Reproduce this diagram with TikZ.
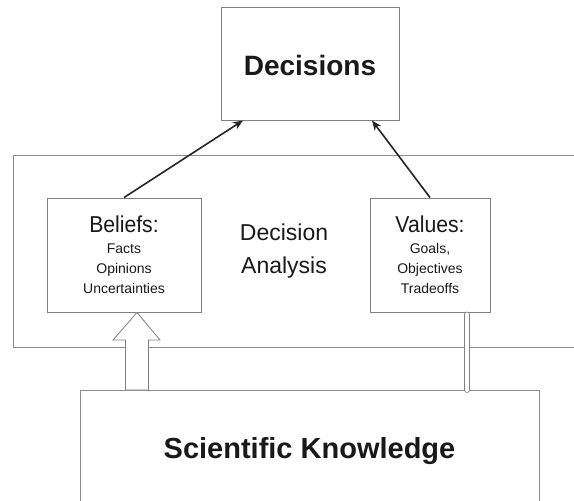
\documentclass[tikz,border=0pt]{standalone}
\usepackage{fontspec}
\setmainfont{Liberation Sans}
\usetikzlibrary{arrows.meta,calc}
\begin{document}
\begin{tikzpicture}[x=1pt,y=-1pt,
  box/.style={draw=black!50, line width=0.9pt, fill=white, inner sep=0pt},
  lbl/.style={anchor=base, inner sep=0pt, text=black!90},
  conn/.style={draw=black!85, line width=1.6pt, -{Stealth[length=10pt,width=8pt]}},
  frame/.style={draw=black!45, line width=0.8pt}]
\useasboundingbox[fill=white] (0,0) rectangle (574,501);
% Decision analysis region (open on the right)
\draw[frame] (575,155) -- (13,155) -- (13,347) -- (575,347);
% boxes
\node[box, minimum width=178pt, minimum height=113pt] (decisions) at (310,63.5) {};
\node[box, minimum width=154pt, minimum height=114pt] (beliefs) at (124,255) {};
\node[box, minimum width=120pt, minimum height=114pt] (values) at (430,255) {};
\draw[frame] (80,505) -- (80,390) -- (539,390) -- (539,505);
\coordinate (sk) at (309.5,390);
% texts
\node[lbl, font=\bfseries\fontsize{28}{30}\selectfont] (tdec) at (310,75) {Decisions};
\node[lbl, font=\fontsize{23}{25}\selectfont] (tda1) at (284,240) {Decision};
\node[lbl, font=\fontsize{23}{25}\selectfont] (tda2) at (284,273) {Analysis};
\node[lbl, font=\fontsize{23}{25}\selectfont, xscale=0.92] (tbel) at (124,232) {Beliefs:};
\node[lbl, font=\fontsize{14}{16}\selectfont] (tb1) at (124,253) {Facts};
\node[lbl, font=\fontsize{14}{16}\selectfont] (tb2) at (124,273) {Opinions};
\node[lbl, font=\fontsize{14}{16}\selectfont] (tb3) at (124,293) {Uncertainties};
\node[lbl, font=\fontsize{23}{25}\selectfont, xscale=0.92] (tval) at (430,232) {Values:};
\node[lbl, font=\fontsize{14}{16}\selectfont] (tv1) at (430,253) {Goals,};
\node[lbl, font=\fontsize{14}{16}\selectfont] (tv2) at (430,273) {Objectives};
\node[lbl, font=\fontsize{14}{16}\selectfont] (tv3) at (430,293) {Tradeoffs};
\node[lbl, font=\bfseries\fontsize{29}{31}\selectfont] (tsk) at (309.5,458) {Scientific Knowledge};
% connectors to Decisions
\draw[conn] (beliefs.north) -- ($(decisions.south)+(-67,0)$);
\draw[conn] (values.north) -- ($(decisions.south)+(62,0)$);
% block arrow from Scientific Knowledge to Beliefs
\coordinate (ba) at (137,390);
\coordinate (bt) at ($(beliefs.south)+(13,0)$);
\draw[draw=black!50, line width=0.8pt, fill=white]
  ($(ba)+(-11.5,0)$) -- ($(ba)+(-11.5,-50)$) -- ($(ba)+(-24,-50)$) -- (bt)
  -- ($(ba)+(23,-50)$) -- ($(ba)+(11.5,-50)$) -- ($(ba)+(11.5,0)$) -- cycle;
% thin double arrow from Scientific Knowledge to Values
\coordinate (ta) at (467,390);
\draw[draw=black!50, line width=0.8pt, double=white, double distance=4pt, line cap=round]
  (ta) -- ($(values.south)+(37,2)$);
\end{tikzpicture}
\end{document}
